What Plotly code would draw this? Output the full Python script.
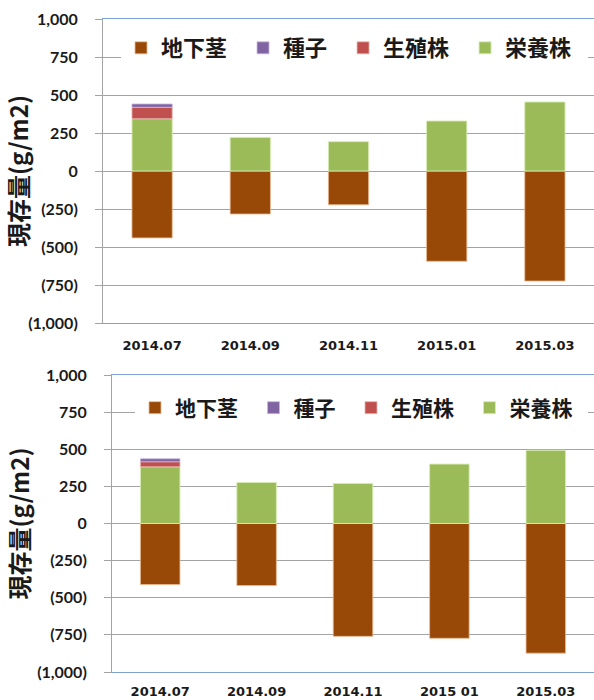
import plotly.graph_objects as go

# ---------------- data ----------------
categories_top = ["2014.07", "2014.09", "2014.11", "2015.01", "2015.03"]
categories_bottom = ["2014.07", "2014.09", "2014.11", "2015 01", "2015.03"]

series_names = ["地下茎", "種子", "生殖株", "栄養株"]

top_rhizome = [-440, -283, -222, -594, -724]
top_seed = [22, 0, 0, 0, 0]
top_reproductive = [75, 0, 0, 0, 0]
top_vegetative = [344, 221, 193, 329, 454]

bottom_rhizome = [-411, -418, -760, -773, -873]
bottom_seed = [20, 0, 0, 0, 0]
bottom_reproductive = [34, 0, 0, 0, 0]
bottom_vegetative = [382, 276, 270, 400, 493]

y_tickvals = [1000, 750, 500, 250, 0, -250, -500, -750, -1000]
y_ticktext = ["1,000", "750", "500", "250", "0", "(250)", "(500)", "(750)", "(1,000)"]
y_title = "現存量(g/m2)"

# ---------------- style ----------------
colors = {"地下茎": "#984807", "種子": "#8064A2", "生殖株": "#C0504D", "栄養株": "#9BBB59"}
edge = {"地下茎": "rgba(235,185,145,0.8)", "種子": "rgba(200,185,225,0.8)",
        "生殖株": "rgba(235,180,180,0.8)", "栄養株": "rgba(215,235,180,0.9)"}
rank = {"地下茎": 1, "種子": 2, "生殖株": 3, "栄養株": 4}

W, H = 594, 700

def px(x):  # page x pixel -> paper fraction
    return x / W

def py(y):  # page y pixel -> paper fraction
    return 1 - y / H

GRID = "#a3a3a3"
BLUE = "#7ea2d4"
LAT = "Lato, 'Noto Sans', sans-serif"
DJV = "'DejaVu Sans', sans-serif"
CJK = "'Noto Sans CJK JP', sans-serif"
PAD = "\u2002"  # spacing after legend entries

fig = go.Figure()

def add_chart(cats, rhiz, seed, repro, veg, xa, ya, legend):
    order = [("地下茎", rhiz), ("栄養株", veg), ("生殖株", repro), ("種子", seed)]
    for name, vals in order:
        fig.add_trace(go.Bar(
            x=cats, y=[v if v != 0 else None for v in vals],
            name=name + PAD, xaxis=xa, yaxis=ya, legend=legend,
            legendrank=rank[name],
            marker=dict(color=colors[name], line=dict(color=edge[name], width=1)),
            hovertemplate=name + ": %{y}<extra>%{x}</extra>",
        ))

add_chart(categories_top, top_rhizome, top_seed, top_reproductive, top_vegetative, "x", "y", "legend")
add_chart(categories_bottom, bottom_rhizome, bottom_seed, bottom_reproductive, bottom_vegetative, "x2", "y2", "legend2")

top_dom = [py(323), py(19)]
bot_dom = [py(672), py(375)]
top_xdom = [px(103), 1]
bot_xdom = [px(112), 1]

def xcat(domain, anchor, standoff):
    return dict(domain=domain, anchor=anchor, type="category", range=[-0.5, 4.5],
                showgrid=False, zeroline=False, showline=True, linecolor=BLUE,
                linewidth=1, mirror=True, ticks="", ticklabelstandoff=standoff,
                tickfont=dict(family=DJV, size=13, color="#1a1a1a", weight="bold"),
                fixedrange=True)

def yax(domain, anchor):
    return dict(domain=domain, anchor=anchor, range=[-1000, 1000],
                tickvals=y_tickvals, ticktext=y_ticktext,
                showgrid=True, gridcolor=GRID, gridwidth=1, zeroline=False,
                showline=True, linecolor=GRID, linewidth=1,
                ticks="outside", ticklen=7, tickcolor=GRID, ticklabelstandoff=14,
                tickfont=dict(family=LAT, size=16, color="#1a1a1a", weight="bold"),
                title=dict(text=y_title, standoff=0,
                           font=dict(family=CJK, size=24, color="#1a1a1a", weight="bold")),
                automargin=False, fixedrange=True)

def xzero(overlay, pos):
    return dict(overlaying=overlay, anchor="free", position=pos, type="linear",
                range=[-0.5, 4.5], tickvals=[0.5, 1.5, 2.5, 3.5],
                showticklabels=False, ticks="outside", ticklen=5, tickcolor=GRID,
                showline=True, linecolor=GRID, linewidth=1, showgrid=False,
                zeroline=False, fixedrange=True)

def legend_box(x, y, size):
    return dict(orientation="h", bgcolor="white", borderwidth=0,
                font=dict(family=CJK, size=size, color="#1a1a1a", weight="bold"),
                xanchor="left", yanchor="middle", traceorder="normal",
                itemclick=False, itemdoubleclick=False, x=x, y=y)

fig.update_layout(
    width=W, height=H, margin=dict(l=0, r=0, t=0, b=0, pad=0, autoexpand=False),
    paper_bgcolor="white", plot_bgcolor="white",
    barmode="relative", bargap=0.59,
    showlegend=True,
    xaxis=xcat(top_xdom, "y", 10),
    yaxis=yax(top_dom, "x"),
    xaxis2=xcat(bot_xdom, "y2", 7),
    yaxis2=yax(bot_dom, "x2"),
    xaxis3=xzero("x", (top_dom[0] + top_dom[1]) / 2),
    xaxis4=xzero("x2", (bot_dom[0] + bot_dom[1]) / 2),
    legend=legend_box(px(121), py(48), 22),
    legend2=legend_box(px(135), py(408), 21),
)

fig.write_html(
    "out.html",
    config={"responsive": False, "displayModeBar": False},
    post_script="document.body.style.margin='0';document.body.style.overflow='hidden';",
)
